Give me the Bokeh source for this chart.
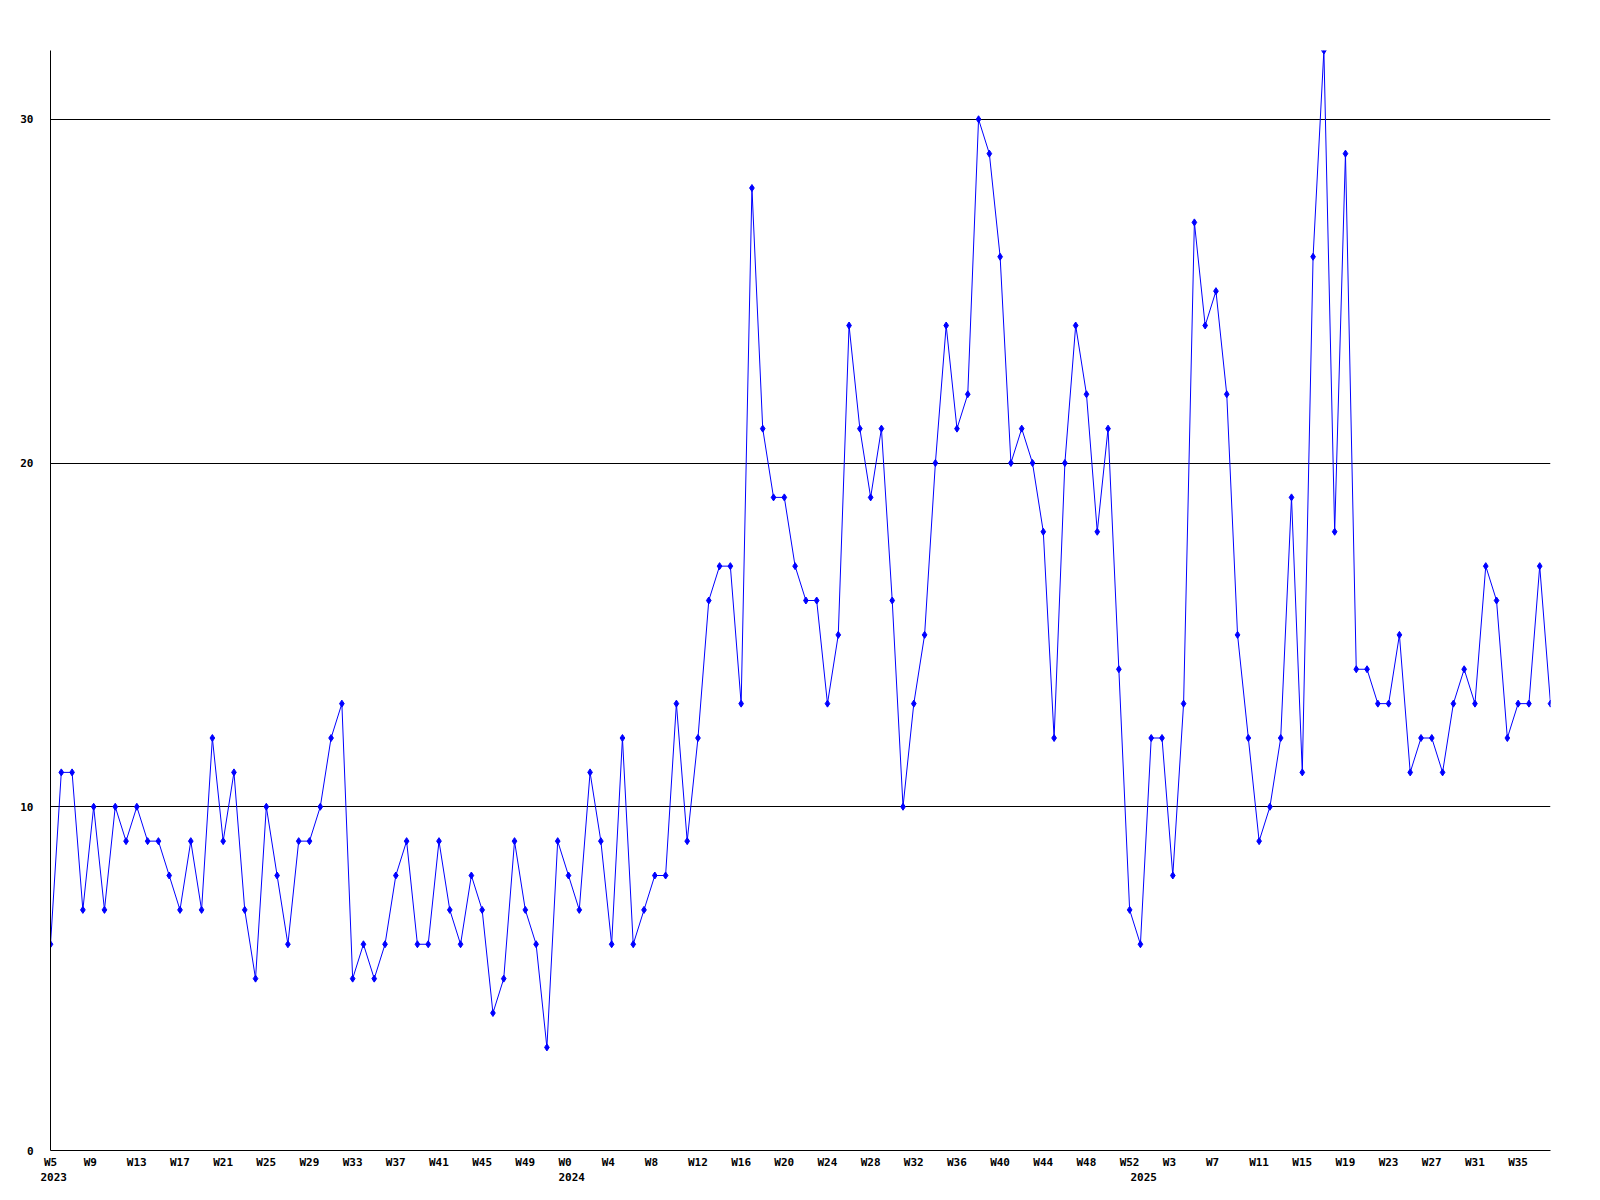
from bokeh.plotting import figure
from bokeh.models import FixedTicker, LinearAxis, ColumnDataSource, Range1d
from bokeh.embed import file_html
from bokeh.resources import INLINE

# ---- data ----
counts = [6, 11, 11, 7, 10, 7, 10, 9, 10, 9, 9, 8, 7, 9, 7, 12, 9, 11, 7, 5,
          10, 8, 6, 9, 9, 10, 12, 13, 5, 6, 5, 6, 8, 9, 6, 6,
          9, 7, 6, 8, 7, 4, 5, 9, 7, 6, 3, 9, 8, 7, 11, 9, 6, 12, 6, 7, 8, 8, 13, 9, 12,
          16, 17, 17, 13, 28, 21, 19, 19, 17, 16, 16, 13, 15, 24, 21, 19, 21, 16, 10,
          13, 15, 20, 24, 21, 22, 30, 29, 26, 20, 21, 20, 18, 12, 20, 24, 22, 18, 21, 14,
          7, 6, 12, 12, 8, 13, 27, 24, 25, 22, 15, 12, 9, 10, 12, 19, 11, 26, 32, 18,
          29, 14, 14, 13, 13, 15, 11, 12, 12, 11, 13, 14, 13, 17, 16, 12, 13, 13, 17, 13]
years = [2023] * 48 + [2024] * 53 + [2025] * 39
weeks = list(range(5, 53)) + list(range(0, 53)) + list(range(0, 39))
y_ticks = [0, 10, 20, 30]
tick_every = 4

idx = list(range(len(counts)))
FONT = "DejaVu Sans Mono"
FSIZE = 11
CHAR_W = 0.602 * FSIZE
BLUE = "#0000ff"

FRAME_W, FRAME_H = 1500, 1100
BL, BT, BB, BR = 50, 50, 42, 34
p = figure(width=BL + FRAME_W + BR, height=BT + FRAME_H + BB,
           x_range=Range1d(0, len(counts) - 1), y_range=Range1d(0, 32),
           output_backend="svg", toolbar_location=None,
           min_border_left=BL, min_border_right=BR,
           min_border_top=BT, min_border_bottom=BB)
p.outline_line_color = None

px_per_idx = FRAME_W / (len(counts) - 1)


def style_axis(ax):
    ax.major_tick_out = 0
    ax.major_tick_in = 0
    ax.minor_tick_out = 0
    ax.minor_tick_in = 0
    ax.major_label_text_font = FONT
    ax.major_label_text_font_style = "bold"
    ax.major_label_text_font_size = "%dpx" % FSIZE
    ax.major_label_text_color = "black"


# y axis
p.yaxis.ticker = FixedTicker(ticks=y_ticks)
style_axis(p.yaxis[0])
p.yaxis.major_label_standoff = 17
p.yaxis.axis_line_color = "black"


def label_pos(i, text):
    # labels start 10px left of their week's point
    c = i + (len(text) * CHAR_W / 2 - 10) / px_per_idx
    return max(0.0, c)


# week labels on the main x axis
tx = [i for i in idx if i % tick_every == 0]
wk_labels = {}
wk_ticks = []
for i in tx:
    t = "W%d" % weeks[i]
    pos = round(label_pos(i, t), 4)
    wk_ticks.append(pos)
    wk_labels[pos] = t
xa = p.xaxis[0]
xa.ticker = FixedTicker(ticks=wk_ticks)
xa.major_label_overrides = wk_labels
style_axis(xa)
xa.major_label_standoff = 5
xa.axis_line_color = "black"

# year labels on a second axis below
yx = [i for i in idx if i == 0 or years[i] != years[i - 1]]
yr_labels = {}
yr_ticks = []
for i in yx:
    t = str(years[i])
    pos = round(label_pos(i, t), 4)
    yr_ticks.append(pos)
    yr_labels[pos] = t
ya2 = LinearAxis(ticker=FixedTicker(ticks=yr_ticks), major_label_overrides=yr_labels)
style_axis(ya2)
ya2.axis_line_color = None
ya2.major_label_standoff = 1
p.add_layout(ya2, "below")

p.xgrid.visible = False
p.ygrid.ticker = FixedTicker(ticks=y_ticks)
p.ygrid.grid_line_color = "black"
p.ygrid.grid_line_width = 1

src = ColumnDataSource(dict(x=idx, y=counts))
p.line("x", "y", source=src, line_color=BLUE, line_width=1)
p.scatter("x", "y", source=src, marker="diamond", size=7,
          fill_color=BLUE, line_color=BLUE, line_width=1)

open("out.html", "w").write(file_html(p, INLINE))
